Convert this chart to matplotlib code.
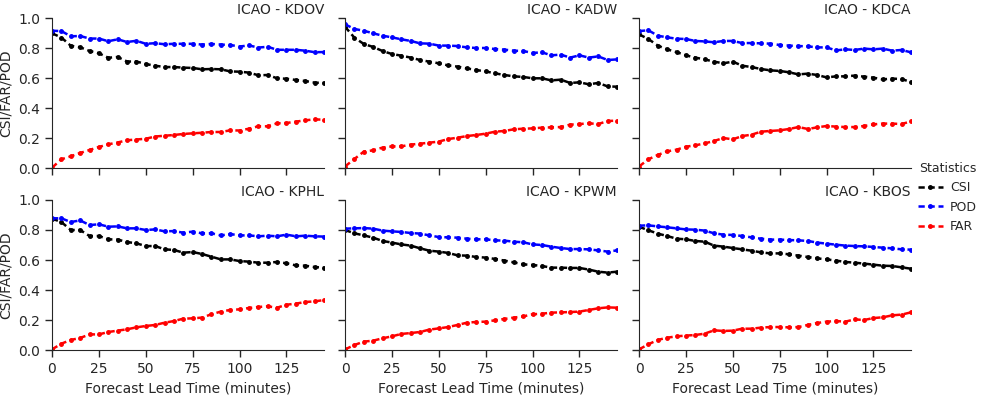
import numpy as np
import matplotlib
matplotlib.use("Agg")
import matplotlib.pyplot as plt
from matplotlib.lines import Line2D

# lead times (minutes), one point every 5 min
lead_time = np.arange(0, 150, 5)

stations = ["KDOV", "KADW", "KDCA", "KPHL", "KPWM", "KBOS"]

csi = {
    "KDOV": [0.898, 0.870, 0.815, 0.805, 0.780, 0.765, 0.735, 0.740, 0.710, 0.710,
             0.693, 0.682, 0.673, 0.673, 0.669, 0.667, 0.658, 0.660, 0.658, 0.644,
             0.642, 0.636, 0.618, 0.620, 0.598, 0.595, 0.587, 0.580, 0.569, 0.567],
    "KADW": [0.942, 0.869, 0.827, 0.807, 0.780, 0.760, 0.749, 0.736, 0.720, 0.709,
             0.698, 0.684, 0.676, 0.664, 0.653, 0.644, 0.631, 0.620, 0.611, 0.607,
             0.598, 0.598, 0.584, 0.589, 0.567, 0.571, 0.558, 0.567, 0.544, 0.542],
    "KDCA": [0.891, 0.860, 0.816, 0.791, 0.773, 0.751, 0.736, 0.724, 0.709, 0.698,
             0.709, 0.682, 0.673, 0.660, 0.651, 0.647, 0.638, 0.624, 0.629, 0.620,
             0.604, 0.611, 0.611, 0.616, 0.609, 0.602, 0.591, 0.596, 0.593, 0.573],
    "KPHL": [0.876, 0.853, 0.800, 0.800, 0.760, 0.760, 0.738, 0.736, 0.720, 0.711,
             0.693, 0.693, 0.671, 0.667, 0.649, 0.653, 0.640, 0.622, 0.604, 0.604,
             0.593, 0.589, 0.582, 0.582, 0.587, 0.578, 0.564, 0.562, 0.553, 0.549],
    "KPWM": [0.800, 0.778, 0.764, 0.749, 0.727, 0.716, 0.704, 0.696, 0.678, 0.662,
             0.656, 0.647, 0.631, 0.629, 0.620, 0.616, 0.607, 0.596, 0.584, 0.571,
             0.567, 0.560, 0.549, 0.549, 0.547, 0.547, 0.536, 0.522, 0.516, 0.522],
    "KBOS": [0.822, 0.798, 0.776, 0.760, 0.742, 0.738, 0.727, 0.722, 0.696, 0.689,
             0.680, 0.671, 0.662, 0.651, 0.644, 0.644, 0.638, 0.629, 0.620, 0.611,
             0.604, 0.596, 0.587, 0.582, 0.576, 0.569, 0.562, 0.560, 0.551, 0.542],
}

pod = {
    "KDOV": [0.915, 0.913, 0.878, 0.880, 0.863, 0.863, 0.845, 0.858, 0.840, 0.848,
             0.828, 0.832, 0.825, 0.828, 0.828, 0.828, 0.823, 0.827, 0.823, 0.820,
             0.810, 0.817, 0.803, 0.808, 0.788, 0.788, 0.788, 0.782, 0.772, 0.773],
    "KADW": [0.958, 0.927, 0.915, 0.898, 0.882, 0.871, 0.858, 0.847, 0.831, 0.829,
             0.816, 0.816, 0.813, 0.804, 0.800, 0.800, 0.793, 0.789, 0.782, 0.780,
             0.767, 0.771, 0.751, 0.756, 0.736, 0.751, 0.736, 0.744, 0.720, 0.724],
    "KDCA": [0.913, 0.918, 0.882, 0.871, 0.862, 0.860, 0.847, 0.844, 0.838, 0.847,
             0.847, 0.833, 0.833, 0.831, 0.829, 0.820, 0.816, 0.813, 0.811, 0.804,
             0.804, 0.784, 0.791, 0.787, 0.796, 0.791, 0.796, 0.782, 0.787, 0.771],
    "KPHL": [0.878, 0.878, 0.853, 0.864, 0.833, 0.838, 0.822, 0.824, 0.811, 0.811,
             0.800, 0.804, 0.791, 0.793, 0.782, 0.789, 0.778, 0.778, 0.764, 0.773,
             0.764, 0.764, 0.758, 0.762, 0.758, 0.769, 0.758, 0.762, 0.758, 0.756],
    "KPWM": [0.809, 0.811, 0.813, 0.809, 0.796, 0.791, 0.787, 0.780, 0.776, 0.764,
             0.753, 0.751, 0.749, 0.742, 0.738, 0.738, 0.731, 0.729, 0.722, 0.718,
             0.704, 0.700, 0.689, 0.680, 0.673, 0.673, 0.671, 0.664, 0.656, 0.664],
    "KBOS": [0.829, 0.831, 0.824, 0.818, 0.811, 0.804, 0.802, 0.796, 0.778, 0.769,
             0.767, 0.760, 0.751, 0.742, 0.736, 0.736, 0.733, 0.731, 0.727, 0.716,
             0.709, 0.702, 0.696, 0.693, 0.691, 0.687, 0.682, 0.678, 0.671, 0.669],
}

far = {
    "KDOV": [0.002, 0.058, 0.078, 0.100, 0.120, 0.140, 0.158, 0.170, 0.185, 0.190,
             0.195, 0.210, 0.215, 0.220, 0.227, 0.231, 0.235, 0.240, 0.240, 0.251,
             0.250, 0.262, 0.278, 0.278, 0.298, 0.300, 0.309, 0.318, 0.324, 0.322],
    "KADW": [0.010, 0.060, 0.109, 0.118, 0.136, 0.144, 0.144, 0.156, 0.162, 0.169,
             0.176, 0.193, 0.202, 0.213, 0.220, 0.229, 0.242, 0.247, 0.258, 0.262,
             0.264, 0.269, 0.271, 0.273, 0.289, 0.293, 0.298, 0.293, 0.313, 0.316],
    "KDCA": [0.010, 0.058, 0.087, 0.111, 0.122, 0.142, 0.151, 0.164, 0.180, 0.200,
             0.191, 0.213, 0.222, 0.242, 0.247, 0.251, 0.260, 0.273, 0.260, 0.271,
             0.280, 0.276, 0.273, 0.273, 0.280, 0.291, 0.296, 0.296, 0.293, 0.311],
    "KPHL": [0.004, 0.042, 0.067, 0.080, 0.104, 0.104, 0.120, 0.129, 0.138, 0.151,
             0.160, 0.167, 0.182, 0.193, 0.209, 0.211, 0.216, 0.238, 0.256, 0.267,
             0.271, 0.280, 0.287, 0.291, 0.282, 0.302, 0.309, 0.320, 0.324, 0.333],
    "KPWM": [0.004, 0.033, 0.056, 0.062, 0.078, 0.091, 0.107, 0.113, 0.120, 0.136,
             0.144, 0.153, 0.167, 0.182, 0.187, 0.189, 0.198, 0.207, 0.216, 0.224,
             0.238, 0.242, 0.249, 0.251, 0.253, 0.256, 0.267, 0.278, 0.284, 0.282],
    "KBOS": [0.004, 0.038, 0.067, 0.082, 0.091, 0.096, 0.100, 0.109, 0.131, 0.127,
             0.129, 0.142, 0.142, 0.149, 0.153, 0.153, 0.151, 0.153, 0.167, 0.180,
             0.189, 0.193, 0.189, 0.204, 0.200, 0.213, 0.218, 0.231, 0.236, 0.251],
}

stat_names = ["CSI", "POD", "FAR"]
stat_colors = ["black", "blue", "red"]

plt.rcParams["font.family"] = "DejaVu Sans"
plt.rcParams["font.size"] = 10
plt.rcParams["text.color"] = "#262626"
plt.rcParams["axes.labelcolor"] = "#262626"
plt.rcParams["xtick.color"] = "#262626"
plt.rcParams["ytick.color"] = "#262626"
plt.rcParams["axes.edgecolor"] = "#262626"

fig = plt.figure(figsize=(9.82, 3.95), dpi=100)

W, H = 982.0, 395.0
lefts = [52, 345, 639]
tops = [18, 200]
aw, ah = 272, 150

dash = (0, (2.5, 1.5))

for k, st in enumerate(stations):
    r, c = divmod(k, 3)
    ax = fig.add_axes([lefts[c] / W, 1 - (tops[r] + ah) / H, aw / W, ah / H])
    for name, col in zip(stat_names, stat_colors):
        vals = {"CSI": csi, "POD": pod, "FAR": far}[name][st]
        ax.plot(lead_time, vals, color=col, linestyle=dash, marker="o",
                markersize=2.5, linewidth=1.8)
    ax.set_xlim(0, 145)
    ax.set_ylim(0, 1.0)
    ax.set_xticks([0, 25, 50, 75, 100, 125])
    ax.set_yticks([0, 0.2, 0.4, 0.6, 0.8, 1.0])
    ax.spines["top"].set_visible(False)
    ax.spines["right"].set_visible(False)
    ax.tick_params(direction="out", length=5, width=1, labelsize=10)
    ax.set_title("ICAO - " + st, loc="right", fontsize=10, pad=3)
    if c == 0:
        ax.set_ylabel("CSI/FAR/POD", fontsize=10)
    else:
        ax.tick_params(labelleft=False)
    if r == 1:
        ax.set_xlabel("Forecast Lead Time (minutes)", fontsize=10)
    else:
        ax.tick_params(labelbottom=False)

handles = [Line2D([], [], color=col, linestyle=dash, marker="o", markersize=2.5,
                  linewidth=1.8) for col in stat_colors]
leg = fig.legend(handles, stat_names, title="Statistics", loc="center left",
                 bbox_to_anchor=(0.923, 0.5), frameon=False, fontsize=9,
                 title_fontsize=9, handlelength=2.0, handletextpad=0.6,
                 labelspacing=0.5)

fig.savefig("out.png", dpi=100)
